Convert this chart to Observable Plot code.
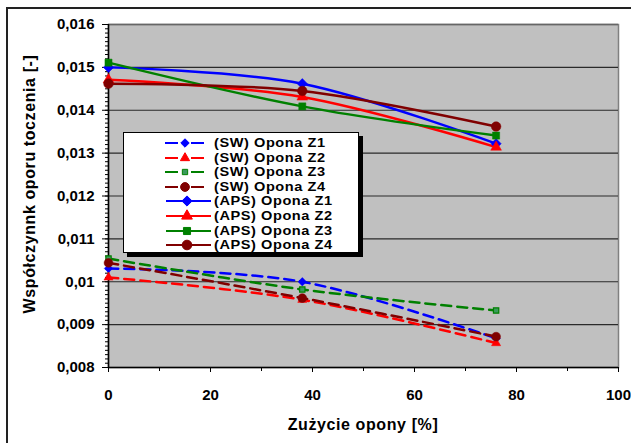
<!DOCTYPE html>
<html>
<head>
<meta charset="utf-8">
<script src="https://cdn.jsdelivr.net/npm/d3@7"></script>
<script src="https://cdn.jsdelivr.net/npm/@observablehq/plot@0.6"></script>
<style>
  html, body { margin: 0; padding: 0; background: #fff; overflow: hidden; }
  #wrap { position: relative; width: 631px; height: 443px; font-family: "Liberation Sans", Arial, sans-serif; }
  #border { position: absolute; left: 6px; top: 7px; width: 700px; height: 500px; border: 2px solid #222; box-sizing: border-box; }
  #legend { position: absolute; left: 123px; top: 132px; width: 236px; height: 121px; box-sizing: border-box;
            background: #fff; border: 1px solid #000; box-shadow: 4px 4px 0 #000; }
  .row { position: absolute; left: 0; height: 14px; }
  .row svg { position: absolute; left: 40px; top: 0; }
  .row span { position: absolute; left: 90px; top: 0px; white-space: nowrap; font-weight: bold; font-size: 13px; line-height: 14px;
              letter-spacing: 0.5px; color: #000; transform: scaleX(1.12); transform-origin: 0 50%; }
  #chart { position: absolute; left: 0; top: 0; }
  .title { position: absolute; font-weight: bold; font-size: 16px; line-height: 18px; white-space: nowrap; color: #000; letter-spacing: 0.6px; }
  #xtitle { left: 363px; top: 416px; transform: translateX(-50%); }
  #ytitle { left: 30px; top: 184px; transform: translate(-50%, -50%) rotate(-90deg); }
</style>
</head>
<body>
<div id="wrap">
  <div id="border"></div>
  <div id="chart"></div>
  <div id="legend"></div>
  <div class="title" id="xtitle">Zużycie opony [%]</div>
  <div class="title" id="ytitle">Współczynnk oporu toczenia [-]</div>
</div>
<script>
// ---- data ----
const wear = [0, 38, 76]; // Zużycie opony [%]
const swZ1 = [0.01031, 0.01000, 0.00868];
const swZ2 = [0.01010, 0.00958, 0.00857];
const swZ3 = [0.01054, 0.00982, 0.00933];
const swZ4 = [0.01044, 0.00962, 0.00872];
const apsZ1 = [0.01500, 0.01462, 0.01322];
const apsZ2 = [0.01471, 0.01431, 0.01314];
const apsZ3 = [0.01511, 0.01409, 0.01341];
const apsZ4 = [0.01462, 0.01445, 0.01362];
const seriesNames = ["(SW) Opona Z1", "(SW) Opona Z2", "(SW) Opona Z3", "(SW) Opona Z4",
                     "(APS) Opona Z1", "(APS) Opona Z2", "(APS) Opona Z3", "(APS) Opona Z4"];
const xTicks = [0, 20, 40, 60, 80, 100];
const yTicks = [0.008, 0.009, 0.010, 0.011, 0.012, 0.013, 0.014, 0.015, 0.016];

// ---- styles per series ----
const colors = ["#0000ff", "#ff0000", "#008000", "#800000"];
const symbols = ["diamond2", "triangle", "square", "circle"];
const d3Symbols = [d3.symbolDiamond2, d3.symbolTriangle, d3.symbolSquare, d3.symbolCircle];
const seriesVals = [swZ1, swZ2, swZ3, swZ4, apsZ1, apsZ2, apsZ3, apsZ4];

const series = seriesNames.map((name, i) => ({
  name, vals: seriesVals[i], sw: i < 4, k: i % 4
}));
const rows = series.flatMap(s => s.vals.map((v, j) => ({name: s.name, x: wear[j], y: v, sw: s.sw, k: s.k})));

const fmt = d => String(+d.toFixed(4)).replace(".", ",");
const yMinor = d3.range(80, 161).map(d => d / 10000);
const xMinor = d3.range(0, 101, 10);
const radius = (s) => s.sw ? [3.8, 3.4, 3.0, 4.4][s.k] : [4.6, 4.0, 4.0, 4.8][s.k];

const marks = [
  Plot.frame({fill: "#c0c0c0", stroke: "#808080", strokeWidth: 1.5}),
  Plot.ruleY(yTicks.slice(1, -1), {stroke: "#2a2a2a", strokeWidth: 1.2}),
  Plot.ruleY(yTicks.slice(-1), {stroke: "#666", strokeWidth: 1.5}),
  Plot.axisY(yMinor, {tickSize: 3, tickFormat: () => "", stroke: "#000", label: null}),
  Plot.axisY(yTicks, {tickSize: 6, tickFormat: fmt, fontSize: 15, fontWeight: "bold", tickPadding: 8, label: null}),
  Plot.axisX(xMinor, {tickSize: 4, tickFormat: () => "", label: null}),
  Plot.axisX(xTicks, {tickSize: 5, tickFormat: d => String(d), fontSize: 15, fontWeight: "bold", tickPadding: 17, label: null}),
  Plot.ruleX([0], {stroke: "#000", strokeWidth: 1.5}),
  Plot.ruleY([0.008], {stroke: "#000", strokeWidth: 1.5})
];

series.forEach(s => {
  const data = rows.filter(r => r.name === s.name);
  marks.push(Plot.line(data, {x: "x", y: "y", curve: "cardinal", stroke: colors[s.k],
    strokeWidth: 2.5, strokeDasharray: s.sw ? "10,6" : null}));
});
series.forEach(s => {
  const data = rows.filter(r => r.name === s.name);
  const k = s.k;
  let fill = colors[k];
  if (s.sw && k === 2) fill = "#3a9a5c";
  marks.push(Plot.dot(data, {x: "x", y: "y", symbol: symbols[k], r: radius(s), fill, stroke: colors[k], strokeWidth: s.sw && k===2 ? 1.2 : 0.5}));
});

const chart = Plot.plot({
  width: 631, height: 443,
  marginLeft: 108, marginRight: 13, marginTop: 24, marginBottom: 76,
  style: {fontFamily: "'Liberation Sans', Arial, sans-serif", fontSize: "15px", fontWeight: "bold", color: "#000", background: "transparent"},
  x: {domain: [0, 100]},
  y: {domain: [0.008, 0.016]},
  marks
});
document.getElementById("chart").appendChild(chart);

// ---- legend ----
const legend = document.getElementById("legend");
const ns = "http://www.w3.org/2000/svg";
series.forEach((s, i) => {
  const row = document.createElement("div");
  row.className = "row";
  row.style.top = (3 + i * 14.6) + "px";
  const svg = document.createElementNS(ns, "svg");
  svg.setAttribute("width", 50); svg.setAttribute("height", 14);
  const c = colors[s.k];
  const line = document.createElementNS(ns, "line");
  line.setAttribute("x1", s.sw ? 1 : 2); line.setAttribute("x2", s.sw ? 40 : 47);
  line.setAttribute("y1", 7); line.setAttribute("y2", 7);
  line.setAttribute("stroke", c); line.setAttribute("stroke-width", 2.2);
  if (s.sw) line.setAttribute("stroke-dasharray", "13,13");
  svg.appendChild(line);
  const r = radius(s);
  const sym = d3.symbol(d3Symbols[s.k], Math.PI * r * r)();
  const p = document.createElementNS(ns, "path");
  p.setAttribute("d", sym);
  p.setAttribute("transform", `translate(${s.sw ? 21 : 23},7)`);
  p.setAttribute("fill", s.sw && s.k === 2 ? "#3a9a5c" : c);
  p.setAttribute("stroke", c);
  svg.appendChild(p);
  row.appendChild(svg);
  const span = document.createElement("span");
  span.textContent = s.name;
  row.appendChild(span);
  legend.appendChild(row);
});
</script>
</body>
</html>
